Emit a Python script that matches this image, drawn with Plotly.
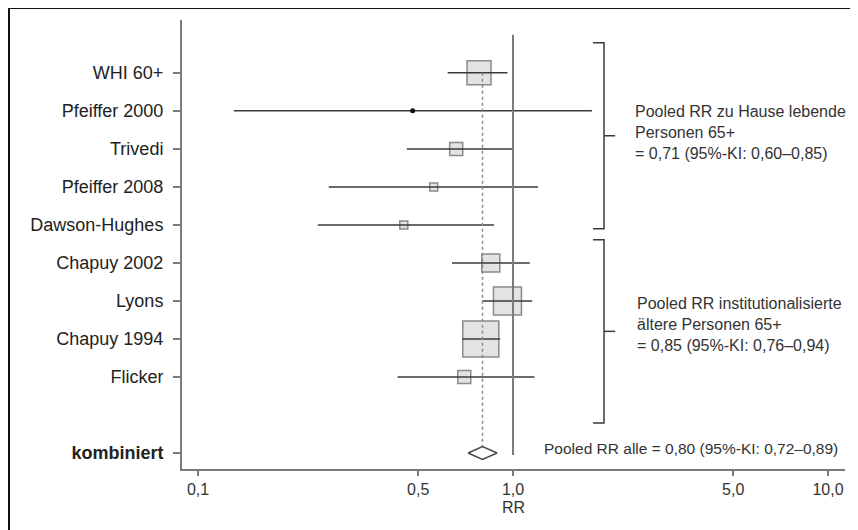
import plotly.graph_objects as go

# ---------------- data ----------------
studies = ["WHI 60+", "Pfeiffer 2000", "Trivedi", "Pfeiffer 2008", "Dawson-Hughes",
           "Chapuy 2002", "Lyons", "Chapuy 1994", "Flicker"]
rr = [0.78, 0.48, 0.66, 0.56, 0.45, 0.85, 0.96, 0.79, 0.70]
ci_low = [0.62, 0.13, 0.46, 0.26, 0.24, 0.64, 0.80, 0.69, 0.43]
ci_high = [0.96, 1.78, 1.00, 1.20, 0.87, 1.13, 1.15, 0.91, 1.17]
weights = [24, 0, 13, 8, 8, 18, 28, 36, 13]   # marker box size (study weight)

pooled_label = "kombiniert"
pooled_rr = 0.80
pooled_low = 0.72
pooled_high = 0.89

x_ticks = [0.1, 0.5, 1.0, 5.0, 10.0]
x_ticklabels = ["0,1", "0,5", "1,0", "5,0", "10,0"]

group_texts = [
    "Pooled RR zu Hause lebende<br>Personen 65+<br>= 0,71 (95%-KI: 0,60–0,85)",
    "Pooled RR institutionalisierte<br>ältere Personen 65+<br>= 0,85 (95%-KI: 0,76–0,94)",
]
group_spans = [(-0.79, 4.1), (4.39, 9.21)]
overall_text = "Pooled RR alle = 0,80 (95%-KI: 0,72–0,89)"

# ---------------- figure ----------------
FONT = "Liberation Sans, Arial, sans-serif"
ypos = list(range(len(studies)))
y_pooled = len(studies) + 1

fig = go.Figure()

# study boxes
box_idx = [i for i, w in enumerate(weights) if w > 0]
fig.add_trace(go.Scatter(
    x=[rr[i] for i in box_idx], y=[ypos[i] for i in box_idx], mode="markers",
    marker=dict(symbol="square", size=[weights[i] for i in box_idx],
                color="#d8d8d8", line=dict(color="#5a5a5a", width=1.5)),
    showlegend=False, hoverinfo="skip"))

# CI lines
for i in ypos:
    fig.add_trace(go.Scatter(x=[ci_low[i], ci_high[i]], y=[i, i], mode="lines",
                             line=dict(color="#3a3a3a", width=1.5),
                             showlegend=False, hoverinfo="skip"))

# small dot study (no box)
dot_idx = [i for i, w in enumerate(weights) if w == 0]
fig.add_trace(go.Scatter(
    x=[rr[i] for i in dot_idx], y=[ypos[i] for i in dot_idx], mode="markers",
    marker=dict(symbol="circle", size=5, color="#111"),
    showlegend=False, hoverinfo="skip"))

# line of no effect
fig.add_trace(go.Scatter(x=[1.0, 1.0], y=[-1.0, y_pooled + 0.05], mode="lines",
                         line=dict(color="#7a7a7a", width=2),
                         showlegend=False, hoverinfo="skip"))

# pooled dotted line
fig.add_trace(go.Scatter(x=[pooled_rr, pooled_rr], y=[0, y_pooled - 0.17], mode="lines",
                         line=dict(color="#8a8a8a", width=1.5, dash="dot"),
                         showlegend=False, hoverinfo="skip"))

# pooled diamond
h = 0.17
fig.add_trace(go.Scatter(
    x=[pooled_low, pooled_rr, pooled_high, pooled_rr, pooled_low],
    y=[y_pooled, y_pooled - h, y_pooled, y_pooled + h, y_pooled],
    mode="lines", fill="toself", fillcolor="white",
    line=dict(color="#4a4a4a", width=1.5), showlegend=False, hoverinfo="skip"))

# brackets
bx_in, bx_out, bx_tick = 1.795, 1.945, 2.11
for (top, bot) in group_spans:
    mid = (top + bot) / 2
    fig.add_trace(go.Scatter(
        x=[bx_in, bx_out, bx_out, bx_in, None, bx_out, bx_tick],
        y=[top, top, bot, bot, None, mid, mid],
        mode="lines", line=dict(color="#3a3a3a", width=1.5),
        showlegend=False, hoverinfo="skip"))

# page offset (browser body margin) and plot area geometry in screen pixels
OFF = 8
L, R, T, B = 182 - OFF, 845 - OFF, 20 - OFF, 469 - OFF
FW, FH = 858 - OFF, 530 - OFF
W, H = R - L, B - T
def px(x):
    return (x - OFF - L) / W
def py(y):
    return (B - (y - OFF)) / H

annos = [
    dict(x=px(633), y=py(132), text=group_texts[0], size=16),
    dict(x=px(635), y=py(325), text=group_texts[1], size=16),
    dict(x=px(542), y=py(448), text=overall_text, size=15.5),
]
for a in annos:
    fig.add_annotation(x=a["x"], y=a["y"], xref="paper", yref="paper", text=a["text"],
                       showarrow=False, xanchor="left", yanchor="middle", align="left",
                       font=dict(family=FONT, size=a["size"], color="#333"))

ticktext = studies + ["<b>" + pooled_label + "</b>"]
tickvals = ypos + [y_pooled]

fig.update_layout(
    width=FW, height=FH,
    margin=dict(l=L, r=FW - R, t=T, b=FH - B),
    paper_bgcolor="white", plot_bgcolor="white",
    font=dict(family=FONT, color="#222"),
    xaxis=dict(type="log", range=[-1.051, 1.054], tickvals=x_ticks, ticktext=x_ticklabels,
               showline=True, linecolor="#7a7a7a", linewidth=2, ticks="outside",
               ticklen=5, tickcolor="#7a7a7a", tickwidth=1.5,
               tickfont=dict(size=16, color="#333"), showgrid=False, zeroline=False,
               title=dict(text="RR", font=dict(size=16, color="#333"), standoff=5)),
    yaxis=dict(range=[10.42, -1.39], tickvals=tickvals, ticktext=ticktext,
               showline=True, linecolor="#7a7a7a", linewidth=2, ticks="outside",
               ticklen=7, tickcolor="#7a7a7a", tickwidth=1.5, ticklabelstandoff=6,
               tickfont=dict(size=18, color="#222"), showgrid=False, zeroline=False),
    shapes=[dict(type="rect", xref="paper", yref="paper",
                 x0=px(9), x1=1.3, y0=-0.4, y1=py(8),
                 line=dict(color="#111", width=2), fillcolor="rgba(0,0,0,0)")],
)

fig.write_html("out.html")
